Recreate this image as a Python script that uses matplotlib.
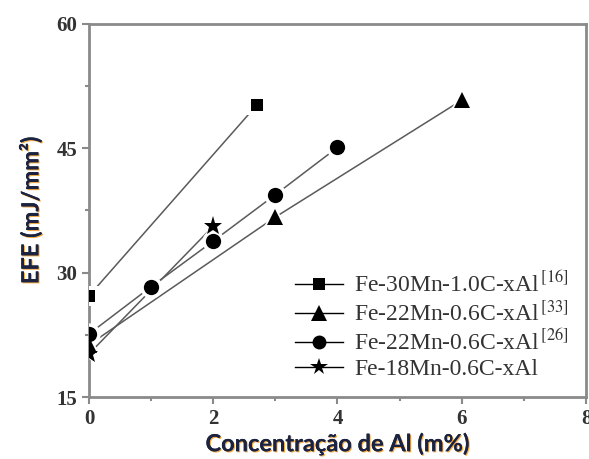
import matplotlib
matplotlib.use('Agg')
import matplotlib.pyplot as plt
import matplotlib.patheffects as pe
from matplotlib.ticker import MultipleLocator

plt.rcParams['mathtext.fontset'] = 'stix'

# ===================== Dados =====================
al_30Mn = [0, 2.7]
efe_30Mn = [27.2, 50.2]

al_22Mn_33 = [0, 3, 6]
efe_22Mn_33 = [21.3, 36.7, 50.8]

al_22Mn_26 = [0, 1, 2, 3, 4]
efe_22Mn_26 = [22.6, 28.3, 33.8, 39.4, 45.1]

al_18Mn = [0, 2]
efe_18Mn = [20.2, 35.6]

rotulos = ['Fe-30Mn-1.0C-xAl$^{\\,[16]}$',
           'Fe-22Mn-0.6C-xAl$^{\\,[33]}$',
           'Fe-22Mn-0.6C-xAl$^{\\,[26]}$',
           'Fe-18Mn-0.6C-xAl']
marcadores = ['s', '^', 'o', '*']
tamanhos = [9, 12, 11, 14]

series = [(al_30Mn, efe_30Mn), (al_22Mn_33, efe_22Mn_33),
          (al_22Mn_26, efe_22Mn_26), (al_18Mn, efe_18Mn)]

fig = plt.figure(figsize=(5.89, 4.59), dpi=100)
ax = fig.add_axes([0.151, 0.135, 0.844, 0.813])

cinza = '#8a8a8a'
# linhas, depois um marcador branco maior (abre o "gap") e o marcador preto
for (x, y) in series:
    ax.plot(x, y, '-', color='#5a5a5a', lw=1.1, zorder=2)
for (x, y), m, s in zip(series, marcadores, tamanhos):
    ax.plot(x, y, m, color='white', ms=s + 5, mew=0, zorder=3)
    ax.plot(x, y, m, color='black', ms=s, mew=0, zorder=4)

# legenda
handles = []
for m, s in zip(marcadores, tamanhos):
    h, = ax.plot([], [], '-', marker=m, color='black', ms=s - 1, lw=1.0,
                 mfc='black', mec='black', mew=0)
    handles.append(h)
leg = ax.legend(handles, rotulos, loc='lower right', frameon=False,
                prop={'family': 'Liberation Serif', 'size': 17},
                handlelength=2.0, handletextpad=0.5, labelspacing=0.15,
                borderaxespad=0.0, bbox_to_anchor=(0.985, 0.02))
for t in leg.get_texts():
    t.set_color('#333333')

ax.set_xlim(0, 8)
ax.set_ylim(15, 60)
ax.xaxis.set_major_locator(MultipleLocator(2))
ax.xaxis.set_minor_locator(MultipleLocator(1))
ax.yaxis.set_major_locator(MultipleLocator(15))
ax.yaxis.set_minor_locator(MultipleLocator(7.5))

for sp in ax.spines.values():
    sp.set_color(cinza)
    sp.set_linewidth(2)
ax.tick_params(which='both', direction='out', color=cinza, width=1.5)
ax.tick_params(which='major', length=5)
ax.tick_params(which='minor', length=3)
ax.tick_params(top=False, right=False)
for lab in ax.get_xticklabels() + ax.get_yticklabels():
    lab.set_fontfamily('Liberation Serif')
    lab.set_fontweight('bold')
    lab.set_fontsize(15)
    lab.set_color('#333333')

sombra = [pe.withSimplePatchShadow(offset=(0.8, -0.8), shadow_rgbFace='#f0a030', alpha=0.9), pe.Normal()]
ax.set_xlabel('Concentração de Al (m%)', fontfamily='Lato', fontweight='bold',
              fontsize=17, color='#1b2340', labelpad=2, path_effects=sombra)
ax.set_ylabel('EFE (mJ/mm²)', fontfamily='Lato', fontweight='bold',
              fontsize=17, color='#1b2340', labelpad=10, path_effects=sombra)

fig.savefig('out.png', dpi=100)
